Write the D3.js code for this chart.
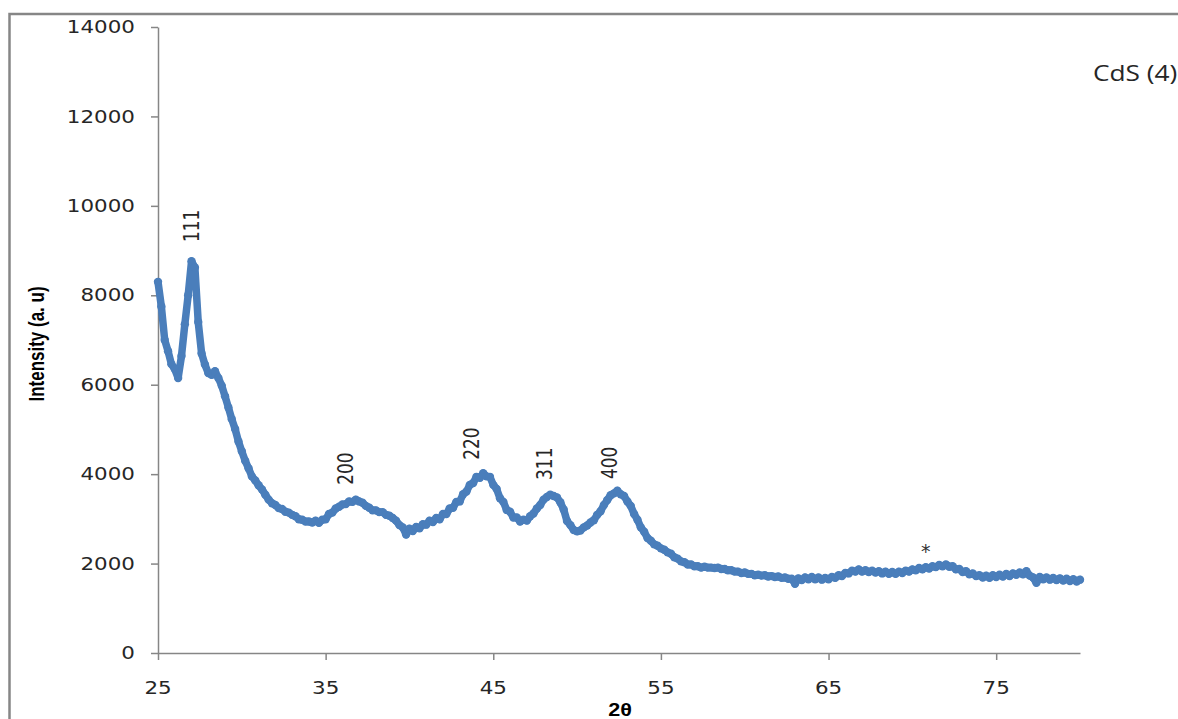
<!DOCTYPE html>
<html>
<head>
<meta charset="utf-8">
<script src="https://cdn.jsdelivr.net/npm/d3@7"></script>
<style>
  body { margin: 0; background: #fff; }
  svg { display: block; }
</style>
</head>
<body>
<svg id="chart" width="1178" height="719"></svg>
<script>
// XRD scan of sample CdS (4): 2θ from 25° to 80° in 0.2° steps
const scanStart = 25;
const scanStep = 0.2;
const intensity = [
  8300, 7750, 7000, 6750, 6460, 6350, 6150, 6640, 7350, 8000,
  8760, 8620, 7400, 6700, 6450, 6260, 6220, 6300, 6150, 5980,
  5740, 5490, 5230, 5010, 4730, 4510, 4300, 4130, 3950, 3860,
  3750, 3660, 3540, 3430, 3350, 3310, 3240, 3220, 3160, 3140,
  3090, 3060, 2990, 2980, 2940, 2940, 2920, 2960, 2910, 2980,
  2990, 3110, 3140, 3230, 3270, 3320, 3330, 3390, 3380, 3430,
  3390, 3360, 3290, 3250, 3190, 3190, 3150, 3150, 3090, 3070,
  3020, 2960, 2860, 2810, 2650, 2780, 2730, 2820, 2790, 2880,
  2870, 2960, 2930, 3020, 2990, 3110, 3110, 3230, 3250, 3380,
  3390, 3550, 3610, 3760, 3800, 3940, 3920, 4020, 3950, 3940,
  3760, 3670, 3460, 3380, 3200, 3160, 3030, 3030, 2940, 2980,
  2960, 3060, 3120, 3230, 3310, 3430, 3490, 3540, 3510, 3480,
  3370, 3210, 2950, 2860, 2750, 2720, 2740, 2810, 2850, 2920,
  2970, 3090, 3170, 3310, 3420, 3530, 3570, 3630, 3550, 3510,
  3390, 3290, 3110, 2980, 2810, 2710, 2570, 2510, 2430, 2400,
  2340, 2310, 2250, 2220, 2140, 2110, 2050, 2030, 1980, 1980,
  1940, 1940, 1910, 1930, 1910, 1910, 1900, 1910, 1880, 1880,
  1850, 1850, 1820, 1820, 1790, 1800, 1770, 1770, 1740, 1750,
  1730, 1740, 1710, 1720, 1700, 1710, 1680, 1690, 1660, 1660,
  1550, 1670, 1630, 1690, 1650, 1700, 1650, 1690, 1640, 1680,
  1650, 1700, 1680, 1740, 1720, 1790, 1780, 1840, 1820, 1870,
  1820, 1850, 1810, 1840, 1800, 1830, 1780, 1820, 1770, 1810,
  1770, 1820, 1790, 1840, 1820, 1870, 1850, 1900, 1870, 1920,
  1890, 1940, 1920, 1970, 1940, 1980, 1930, 1940, 1870, 1880,
  1810, 1830, 1760, 1780, 1720, 1740, 1690, 1730, 1680, 1740,
  1700, 1750, 1710, 1770, 1720, 1780, 1750, 1800, 1760, 1830,
  1730, 1690, 1570, 1700, 1650, 1690, 1640, 1680, 1630, 1670,
  1620, 1660, 1610, 1650, 1600, 1640
];

const xDomain = [25, 80];
const yDomain = [0, 14000];
const xTicks = [25, 35, 45, 55, 65, 75];
const yTicks = [0, 2000, 4000, 6000, 8000, 10000, 12000, 14000];

// Miller-index annotations above the reflections
const peakLabels = ["111", "200", "220", "311", "400"];
const peakAngles = [27.0, 36.15, 43.7, 48.07, 51.9];
const peakLabelBase = [9190, 3760, 4320, 3870, 3890];

// impurity marker
const markText = "*";
const markAngle = 70.8;
const markIntensity = 2390;

const sampleName = "CdS (4)";
const xTitle = "2θ";
const yTitle = "Intensity (a. u)";

const svg = d3.select("#chart");
const axisColor = "#868686";
const textColor = "#262626";
const lineColor = "#4a7ebb";
const stretch = 1.26;

const x = d3.scaleLinear().domain(xDomain).range([158, 1080]);
const y = d3.scaleLinear().domain(yDomain).range([653, 27]);

// outer frame of the chart area
svg.append("rect")
  .attr("x", 9.5).attr("y", 14)
  .attr("width", 1300).attr("height", 800)
  .attr("fill", "none")
  .attr("stroke", axisColor)
  .attr("stroke-width", 2.5);

// axes
const gy = svg.append("g")
  .attr("transform", "translate(158,0)")
  .call(d3.axisLeft(y).tickValues(yTicks).tickSize(7).tickSizeOuter(0).tickFormat(""));
const gx = svg.append("g")
  .attr("transform", "translate(0,653)")
  .call(d3.axisBottom(x).tickValues(xTicks).tickSize(7).tickSizeOuter(0).tickFormat(""));
[gx, gy].forEach(g => {
  g.selectAll("path, line").attr("stroke", axisColor).attr("stroke-width", 1.5);
});

// tick labels
svg.append("g").selectAll("g")
  .data(yTicks).join("g")
  .attr("transform", d => `translate(135,${y(d)}) scale(${stretch},1)`)
  .append("text")
  .attr("text-anchor", "end")
  .attr("dy", "0.36em")
  .attr("font-family", "DejaVu Sans")
  .attr("font-size", 17)
  .attr("fill", textColor)
  .text(d => d);

svg.append("g").selectAll("g")
  .data(xTicks).join("g")
  .attr("transform", d => `translate(${x(d)},694) scale(${stretch},1)`)
  .append("text")
  .attr("text-anchor", "middle")
  .attr("font-family", "DejaVu Sans")
  .attr("font-size", 17)
  .attr("fill", textColor)
  .text(d => d);

// diffraction pattern: connecting line plus a marker on every sample
const points = intensity.map((v, i) => [scanStart + i * scanStep, v]);
svg.append("path")
  .datum(points)
  .attr("fill", "none")
  .attr("stroke", lineColor)
  .attr("stroke-width", 7.5)
  .attr("stroke-linejoin", "round")
  .attr("stroke-linecap", "round")
  .attr("d", d3.line().x(d => x(d[0])).y(d => y(d[1])));
svg.append("g").selectAll("circle")
  .data(points).join("circle")
  .attr("cx", d => x(d[0]))
  .attr("cy", d => y(d[1]))
  .attr("r", 4.2)
  .attr("fill", lineColor);

// peak annotations
svg.append("g").selectAll("g")
  .data(peakLabels).join("g")
  .attr("transform", (d, i) => `translate(${x(peakAngles[i])},${y(peakLabelBase[i])}) scale(${stretch},1) rotate(-90)`)
  .append("text")
  .attr("text-anchor", "start")
  .attr("dy", "0.36em")
  .attr("font-family", "DejaVu Sans")
  .attr("font-size", 17)
  .attr("fill", textColor)
  .text(d => d);

svg.append("text")
  .attr("x", x(markAngle))
  .attr("y", y(markIntensity))
  .attr("dy", "0.62em")
  .attr("text-anchor", "middle")
  .attr("font-family", "DejaVu Sans")
  .attr("font-size", 19)
  .attr("fill", "#333")
  .text(markText);

// axis titles
svg.append("g")
  .attr("transform", `translate(44,344) scale(1.32,1) rotate(-90)`)
  .append("text")
  .attr("text-anchor", "middle")
  .attr("font-family", "Liberation Sans")
  .attr("font-weight", "bold")
  .attr("font-size", 17)
  .attr("fill", "#000")
  .text(yTitle);

svg.append("g")
  .attr("transform", `translate(620,716) scale(1.2,1)`)
  .append("text")
  .attr("text-anchor", "middle")
  .attr("font-family", "Liberation Sans")
  .attr("font-weight", "bold")
  .attr("font-size", 18)
  .attr("fill", "#000")
  .text(xTitle);

// sample name
svg.append("g")
  .attr("transform", `translate(1093,81) scale(1.25,1)`)
  .append("text")
  .attr("font-family", "Open Sans")
  .attr("font-size", 21)
  .attr("fill", textColor)
  .text(sampleName);
</script>
</body>
</html>
